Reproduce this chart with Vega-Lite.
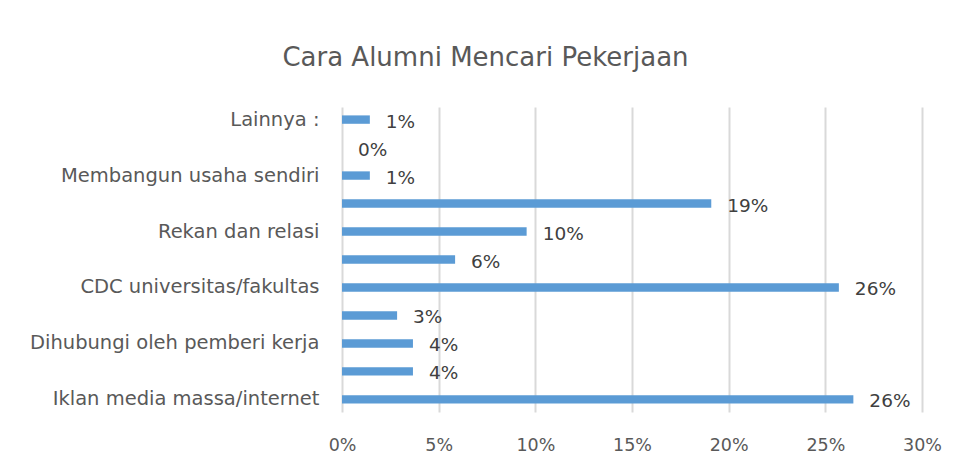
{
  "$schema": "https://vega.github.io/schema/vega-lite/v6.json",
  "autosize": "none",
  "width": 580,
  "height": 305,
  "padding": {"left": 342, "top": 107, "right": 33, "bottom": 54},
  "background": "white",
  "title": {
    "text": "Cara Alumni Mencari Pekerjaan",
    "font": "DejaVu Sans",
    "fontSize": 26,
    "fontWeight": "normal",
    "color": "#595959",
    "anchor": "middle",
    "frame": "bounds",
    "offset": 36
  },
  "data": {
    "values": [
      {"cara": "Lainnya :", "urut": 1, "persen": 0.0144},
      {"cara": "Melalui penempatan kerja atau magang", "urut": 2, "persen": 0.0},
      {"cara": "Membangun usaha sendiri", "urut": 3, "persen": 0.0144},
      {"cara": "Membangun jejaring sejak kuliah", "urut": 4, "persen": 0.191},
      {"cara": "Rekan dan relasi", "urut": 5, "persen": 0.0955},
      {"cara": "Kantor kemahasiswaan/hubungan alumni", "urut": 6, "persen": 0.0585},
      {"cara": "CDC universitas/fakultas", "urut": 7, "persen": 0.257},
      {"cara": "Agen tenaga kerja", "urut": 8, "persen": 0.0285},
      {"cara": "Dihubungi oleh pemberi kerja", "urut": 9, "persen": 0.0367},
      {"cara": "Bursa/pameran kerja", "urut": 10, "persen": 0.0367},
      {"cara": "Iklan media massa/internet", "urut": 11, "persen": 0.2645}
    ]
  },
  "encoding": {
    "y": {
      "field": "cara",
      "type": "nominal",
      "sort": {"field": "urut", "order": "ascending"},
      "scale": {"paddingInner": 0.7, "paddingOuter": 0.3},
      "axis": {
        "title": null,
        "domain": false,
        "ticks": false,
        "labelPadding": 23,
        "labelLimit": 500,
        "labelFont": "DejaVu Sans",
        "labelFontSize": 19.5,
        "labelColor": "#595959",
        "labelExpr": "indexof(['Lainnya :', 'Membangun usaha sendiri', 'Rekan dan relasi', 'CDC universitas/fakultas', 'Dihubungi oleh pemberi kerja', 'Iklan media massa/internet'], datum.value) >= 0 ? datum.value : ''"
      }
    },
    "x": {
      "field": "persen",
      "type": "quantitative",
      "scale": {"domain": [0, 0.3], "nice": false},
      "axis": {
        "title": null,
        "format": ".0%",
        "values": [0, 0.05, 0.1, 0.15, 0.2, 0.25, 0.3],
        "domain": false,
        "ticks": false,
        "grid": true,
        "gridColor": "#D9D9D9",
        "gridWidth": 2,
        "labelFlush": false,
        "labelOverlap": false,
        "labelPadding": 24,
        "labelFont": "DejaVu Sans",
        "labelFontSize": 17.5,
        "labelColor": "#595959"
      }
    }
  },
  "layer": [
    {
      "mark": {"type": "bar", "color": "#5B9BD5"}
    },
    {
      "mark": {
        "type": "text",
        "align": "left",
        "baseline": "middle",
        "dx": 16,
        "dy": 2,
        "font": "DejaVu Sans",
        "fontSize": 18.5,
        "color": "#404040"
      },
      "encoding": {
        "text": {"field": "persen", "type": "quantitative", "format": ".0%"}
      }
    }
  ],
  "config": {
    "view": {"stroke": null}
  }
}
